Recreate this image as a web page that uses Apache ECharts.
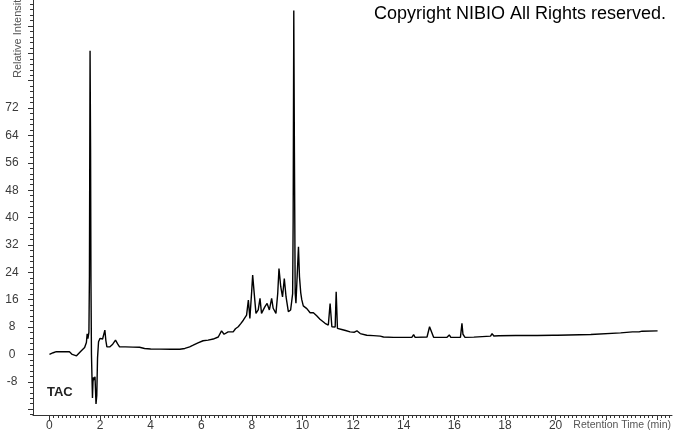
<!DOCTYPE html>
<html>
<head>
<meta charset="utf-8">
<script src="https://cdn.jsdelivr.net/npm/echarts@6/dist/echarts.min.js"></script>
<style>html,body{margin:0;padding:0;background:#fff;}#c{width:673px;height:433px;}</style>
</head>
<body>
<div id="c"></div>
<script>
// Retention time (min)
var times = [0,0.15,0.27,0.5,0.79,0.9,0.95,1.07,1.12,1.25,1.39,1.46,1.49,1.52,1.56,1.58,1.605,1.625,1.64,1.66,1.70,1.72,1.74,1.77,1.80,1.84,1.87,1.90,1.94,2.00,2.10,2.17,2.19,2.23,2.27,2.38,2.50,2.61,2.64,2.70,2.77,3.0,3.3,3.56,3.76,4.0,4.36,4.8,5.15,5.35,5.54,5.68,5.87,6.07,6.27,6.47,6.67,6.80,6.90,7.06,7.26,7.35,7.46,7.56,7.66,7.79,7.86,7.92,7.99,8.03,8.08,8.16,8.25,8.32,8.38,8.45,8.51,8.60,8.69,8.78,8.84,8.95,9.02,9.07,9.14,9.21,9.28,9.35,9.44,9.53,9.61,9.63,9.655,9.68,9.71,9.74,9.84,9.88,9.93,9.97,10.03,10.17,10.24,10.30,10.43,10.56,10.69,10.89,11.02,11.09,11.16,11.29,11.33,11.38,11.55,11.70,11.88,12.05,12.15,12.28,12.54,12.8,13.07,13.2,13.6,13.86,14.32,14.39,14.45,14.92,15.02,15.09,15.18,15.71,15.80,15.86,16.24,16.30,16.34,16.42,16.77,16.82,17.43,17.49,17.56,17.76,17.82,18.42,18.48,18.68,19.27,19.33,19.9,20.07,21.39,21.45,22.57,22.64,23.04,23.1,23.3,23.42,24.03];
// Relative intensity
var intensity = [0.0,0.5,0.8,0.8,0.8,0.0,-0.4,-0.4,0.1,1.0,2.0,3.5,6.0,4.6,6.5,23,88.8,60,22,0,-12.7,-8,-6.7,-7.5,-6.5,-14.5,-12,-1,3.7,4.7,4.5,4.6,7.1,4.0,2.2,2.2,3.0,4.2,4.3,3.0,2.2,2.2,2.15,2.1,1.75,1.6,1.55,1.5,1.5,1.75,2.2,2.7,3.4,4.0,4.2,4.5,5.1,6.9,5.9,6.6,6.6,7.5,8.1,9.0,10,11.5,15.9,10.5,18.3,23.2,18.8,12,13,16.4,12,11.5,13.9,14.9,13,16.4,13.5,12,17.8,25.1,19.8,16.8,22.2,16.8,12.5,13,17.8,39,100.5,59,18,15,31.5,22.7,18,16,14.2,13.4,13.8,12.2,12.2,11.3,10.3,9.1,8.6,14.9,8.1,8.0,18.3,7.6,7.3,7.0,6.6,6.5,6.9,6.1,5.6,5.5,5.35,5.1,5.0,5.0,5.0,5.8,5.0,5.1,8.1,8.3,5.0,5.0,5.7,5.0,5.0,9.1,5.9,5.0,5.05,5.35,5.35,6.1,5.4,5.45,5.6,5.55,5.8,5.55,5.55,5.8,5.6,5.6,5.85,6.1,6.3,6.6,6.6,6.8,6.6,6.8,6.9];

var xTicks = [0,2,4,6,8,10,12,14,16,18,20,22,24];
var xTickLabels = [0,2,4,6,8,10,12,14,16,18,20];
var yTicks = [-16,-8,0,8,16,24,32,40,48,56,64,72,80,88,96];
var yTickLabels = [-8,0,8,16,24,32,40,48,56,64,72];

var X_MIN = -0.65, X_MAX = 24.6, Y_MIN = -17.7, Y_MAX = 103.6;

var xMinor = [];
for (var i = 0; i <= 24 * 6 + 3; i++) { var v = i / 6; if (v <= X_MAX) xMinor.push(+v.toFixed(4)); }
var yMinor = [];
for (var j = -11; j <= 64; j++) { var w = j * 1.6; if (w >= Y_MIN && w <= Y_MAX) yMinor.push(+w.toFixed(3)); }

var data = times.map(function (t, k) { return [t, intensity[k]]; });

var axisColor = '#333';
var labelColor = '#3a3a3a';
var font = '"Liberation Sans", Arial, sans-serif';

var chart = echarts.init(document.getElementById('c'), null, {renderer: 'canvas'});
chart.setOption({
  animation: false,
  backgroundColor: '#fff',
  grid: {left: 33, right: 1, top: 0, bottom: 18},
  xAxis: [{
    type: 'value', min: X_MIN, max: X_MAX,
    splitLine: {show: false},
    axisLine: {show: true, onZero: false, lineStyle: {color: axisColor, width: 1}},
    axisTick: {show: true, length: 5, customValues: xTicks, lineStyle: {color: axisColor}},
    axisLabel: {show: true, customValues: xTickLabels, margin: 5, color: labelColor, fontSize: 12, fontFamily: font}
  }, {
    type: 'value', min: X_MIN, max: X_MAX, position: 'bottom',
    splitLine: {show: false},
    axisLine: {show: false, onZero: false},
    axisTick: {show: true, length: 3, customValues: xMinor, lineStyle: {color: axisColor}},
    axisLabel: {show: false}
  }],
  yAxis: [{
    type: 'value', min: Y_MIN, max: Y_MAX,
    splitLine: {show: false},
    axisLine: {show: true, onZero: false, lineStyle: {color: axisColor, width: 1}},
    axisTick: {show: true, length: 5, customValues: yTicks, lineStyle: {color: axisColor}},
    axisLabel: {show: true, customValues: yTickLabels, margin: 21, align: 'center', color: labelColor, fontSize: 12, fontFamily: font}
  }, {
    type: 'value', min: Y_MIN, max: Y_MAX, position: 'left',
    splitLine: {show: false},
    axisLine: {show: false, onZero: false},
    axisTick: {show: true, length: 3, customValues: yMinor, lineStyle: {color: axisColor}},
    axisLabel: {show: false}
  }],
  series: [{
    type: 'line', xAxisIndex: 0, yAxisIndex: 0,
    data: data, showSymbol: false, symbol: 'none', smooth: false,
    lineStyle: {color: '#000', width: 1.4},
    silent: true
  }],
  graphic: [
    {type: 'text', x: 666, y: 14, style: {text: 'Copyright NIBIO All Rights reserved.', fill: '#000', font: '18px ' + font, textAlign: 'right', textVerticalAlign: 'middle'}},
    {type: 'text', x: 18, y: 78, rotation: Math.PI / 2, style: {text: 'Relative Intensity', fill: '#555', font: '11px ' + font, textAlign: 'left', textVerticalAlign: 'middle'}},
    {type: 'text', x: 47, y: 392, style: {text: 'TAC', fill: '#222', font: 'bold 13px ' + font, textAlign: 'left', textVerticalAlign: 'middle'}},
    {type: 'text', x: 671, y: 425, style: {text: 'Retention Time (min)', fill: '#555', font: '10.5px ' + font, textAlign: 'right', textVerticalAlign: 'middle'}}
  ]
});
</script>
</body>
</html>
